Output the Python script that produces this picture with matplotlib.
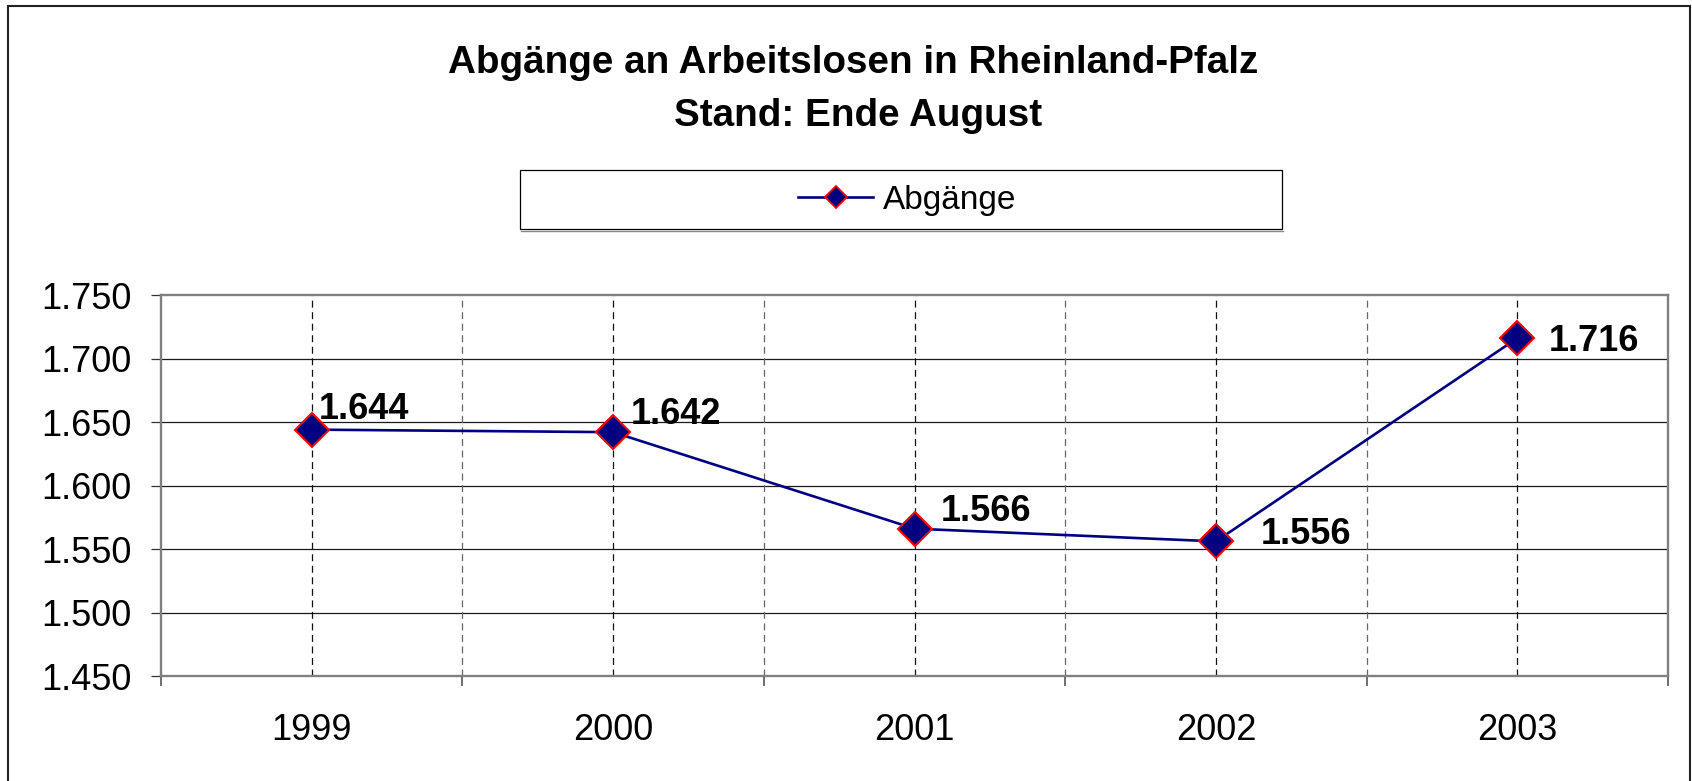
import matplotlib
matplotlib.use("Agg")
import matplotlib.pyplot as plt
from matplotlib.patches import Rectangle
from matplotlib.lines import Line2D
from matplotlib.ticker import FixedLocator, FuncFormatter

plt.rcParams['font.family'] = ['Liberation Sans', 'DejaVu Sans']
plt.rcParams['lines.scale_dashes'] = False

# ---- data ----
years = ['1999', '2000', '2001', '2002', '2003']
abgaenge = [1644, 1642, 1566, 1556, 1716]
y_ticks = [1450, 1500, 1550, 1600, 1650, 1700, 1750]
series_name = 'Abgänge'
title_line1 = 'Abgänge an Arbeitslosen in Rheinland-Pfalz'
title_line2 = 'Stand: Ende August'

# label offsets (pixels, style only)
label_dx = [7, 18, 26, 45, 31]
label_dy = [11, 8, 8, -3, -13]

W, H = 1692, 781
fig = plt.figure(figsize=(W / 100, H / 100), dpi=100)


def fx(px):
    return px / W


def fy(py):
    return 1 - py / H


def de(v, pos=None):
    return f"{int(v):,}".replace(',', '.')


# outer border
fig.patches.append(Rectangle((fx(8), fy(796)), fx(1690) - fx(8), fy(6) - fy(796),
                             transform=fig.transFigure, fill=False,
                             edgecolor='#222222', linewidth=1.5))

ax = fig.add_axes([fx(161), fy(676), fx(1668) - fx(161), fy(295) - fy(676)])
x = list(range(len(years)))

ax.set_xlim(-0.5, len(years) - 0.5)
ax.set_ylim(y_ticks[0], y_ticks[-1])

# gridlines
for yt in y_ticks[1:-1]:
    ax.axhline(yt, color='#1a1a1a', linewidth=0.9, zorder=1)
for xi in x:
    ax.axvline(xi, color='#111111', linewidth=0.9, linestyle=(0, (5, 3.3)), zorder=1)
for xb in range(len(years) - 1):
    ax.axvline(xb + 0.5, color='#666666', linewidth=0.9, linestyle=(0, (5, 3.3)), zorder=1)

ax.plot(x, abgaenge, color='#000080', linewidth=1.9, marker='D', markersize=17.5,
        markerfacecolor='#000080', markeredgecolor='#ff0000', markeredgewidth=1.5,
        zorder=3)

for xi, v, dx, dy in zip(x, abgaenge, label_dx, label_dy):
    ax.annotate(de(v), (xi, v), xytext=(dx, dy), textcoords='offset pixels',
                ha='left', va='baseline', fontsize=26, fontweight='bold',
                color='black', zorder=4)

# axes styling
for s in ax.spines.values():
    s.set_color('#808080')
    s.set_linewidth(1.7)

ax.yaxis.set_major_locator(FixedLocator(y_ticks))
ax.yaxis.set_major_formatter(FuncFormatter(de))
ax.tick_params(axis='y', direction='out', length=7.5, width=0.9, color='#333333',
               labelsize=26, pad=14)

ax.xaxis.set_major_locator(FixedLocator([i - 0.5 for i in range(len(years) + 1)]))
ax.xaxis.set_major_formatter(FuncFormatter(lambda v, p: ''))
ax.xaxis.set_minor_locator(FixedLocator(x))
ax.set_xticklabels(years, minor=True)
ax.tick_params(axis='x', which='major', direction='out', length=7.5, width=1.2,
               color='#555555')
ax.tick_params(axis='x', which='minor', length=0, labelsize=26, pad=27)

# title
fig.text(fx(853), fy(73), title_line1, ha='center', va='baseline',
         fontsize=27.8, fontweight='bold')
fig.text(fx(858), fy(126), title_line2, ha='center', va='baseline',
         fontsize=27.8, fontweight='bold')

# legend box
fig.patches.append(Rectangle((fx(520), fy(229)), fx(1282) - fx(520), fy(170) - fy(229),
                             transform=fig.transFigure, fill=False,
                             edgecolor='#000000', linewidth=0.9))
fig.lines.append(Line2D([fx(521), fx(1283)], [fy(230.5), fy(230.5)],
                        transform=fig.transFigure, color='#888888', linewidth=1.0))
handle = Line2D([], [], color='#000080', linewidth=1.9, marker='D', markersize=11,
                markerfacecolor='#000080', markeredgecolor='#ff0000',
                markeredgewidth=1.3)
fig.legend([handle], [series_name], loc='center left',
           bbox_to_anchor=(fx(798), fy(200)), frameon=False, fontsize=24,
           handlelength=2.25, handletextpad=0.3, borderpad=0, borderaxespad=0)

fig.savefig('out.png', dpi=100, facecolor='white')
